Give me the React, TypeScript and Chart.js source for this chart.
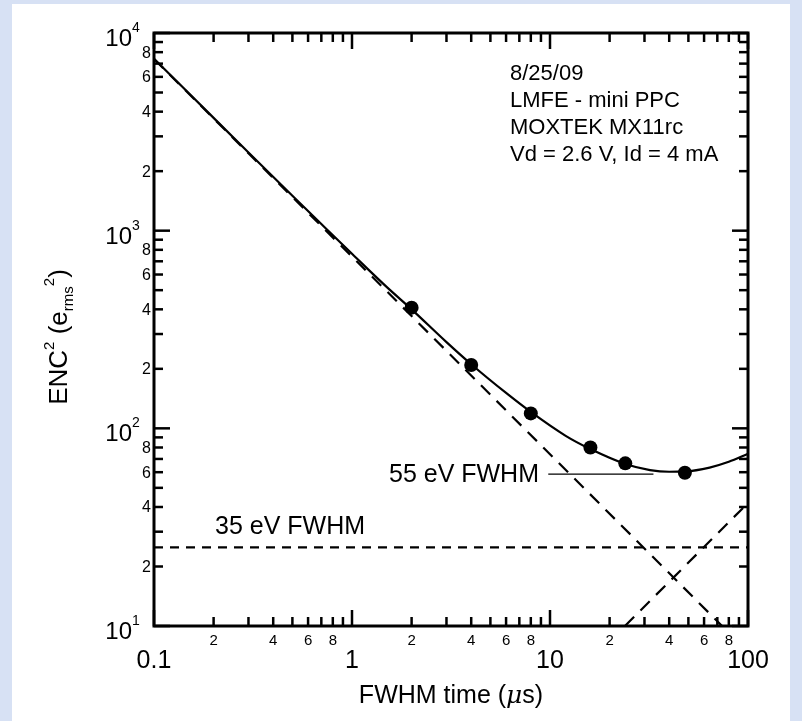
import React, { useEffect, useRef } from "react";
import { Chart, registerables } from "chart.js";

Chart.register(...registerables);

// Measured ENC^2 points
const measuredX = [2, 4, 8, 16, 24, 48];
const measuredY = [408, 209, 119, 80, 66.5, 59.6];

// Fitted curve
const fitX = [0.1, 0.15, 0.2, 0.3, 0.5, 0.7, 1, 1.5, 2, 3, 4, 6, 8, 12, 16, 24, 32, 40, 48, 64, 80, 100];
const fitY = [7415, 4952, 3720, 2488, 1503, 1081, 764, 518, 400, 273, 211, 151, 121, 91.6, 78.5, 66, 61.5, 60.3, 60.5, 63.3, 67.7, 74.3];

// Dashed components
const seriesX = [0.1, 74];
const seriesY = [7390, 10];
const parallelX = [23.9, 100];
const parallelY = [10, 41.9];
const flatX = [0.1, 100];
const flatY = [25, 25];

// 55 eV reference line
const ref55X = [9.8, 33.3];
const ref55Y = [58.7, 58.7];

// Axis ranges and tick labels
const xRange = [0.1, 100];
const yRange = [10, 10000];
const xDecades = [0.1, 1, 10, 100];
const xMajorLabels = ["0.1", "1", "10", "100"];
const yDecades = [10, 100, 1000, 10000];
const yExponents = ["1", "2", "3", "4"];
const minorLabelMultipliers = [2, 4, 6, 8];

const notes = ["8/25/09", "LMFE - mini PPC", "MOXTEK MX11rc", "Vd = 2.6 V, Id = 4 mA"];
const label55 = "55 eV FWHM";
const label35 = "35 eV FWHM";

const FONT = "'Liberation Sans', Arial, Helvetica, sans-serif";

const pts = (xs: number[], ys: number[]) => xs.map((x, i) => ({ x, y: ys[i] }));

const framePlugin = {
  id: "framePlugin",
  afterDraw(chart: any) {
    const ctx: CanvasRenderingContext2D = chart.ctx;
    const xs = chart.scales.x;
    const ys = chart.scales.y;
    const { left, right, top, bottom } = chart.chartArea;
    ctx.save();
    ctx.strokeStyle = "#000";
    ctx.fillStyle = "#000";
    ctx.lineCap = "butt";

    const line = (x1: number, y1: number, x2: number, y2: number) => {
      ctx.beginPath();
      ctx.moveTo(x1, y1);
      ctx.lineTo(x2, y2);
      ctx.stroke();
    };

    // ticks
    ctx.lineWidth = 2.5;
    xDecades.forEach((d) => {
      for (let m = 1; m <= 9; m++) {
        const v = d * m;
        if (v < xRange[0] - 1e-9 || v > xRange[1] + 1e-9) continue;
        const px = xs.getPixelForValue(v);
        const len = m === 1 ? 16 : 9;
        line(px, bottom, px, bottom - len);
        line(px, top, px, top + len);
      }
    });
    yDecades.forEach((d) => {
      for (let m = 1; m <= 9; m++) {
        const v = d * m;
        if (v < yRange[0] - 1e-9 || v > yRange[1] + 1e-9) continue;
        const py = ys.getPixelForValue(v);
        const len = m === 1 ? 16 : 9;
        line(left, py, left + len, py);
        line(right, py, right - len, py);
      }
    });

    // frame
    ctx.lineWidth = 3;
    ctx.strokeRect(left, top, right - left, bottom - top);

    // x tick labels
    ctx.textAlign = "center";
    ctx.textBaseline = "middle";
    xDecades.forEach((d, i) => {
      const px = xs.getPixelForValue(d);
      ctx.font = `25px ${FONT}`;
      ctx.fillText(xMajorLabels[i], px, bottom + 35);
      if (d < xRange[1]) {
        ctx.font = `15px ${FONT}`;
        minorLabelMultipliers.forEach((m) => {
          ctx.fillText(String(m), xs.getPixelForValue(d * m), bottom + 15);
        });
      }
    });

    // y tick labels
    yDecades.forEach((d, i) => {
      const py = ys.getPixelForValue(d);
      ctx.textAlign = "right";
      ctx.textBaseline = "alphabetic";
      ctx.font = `24px ${FONT}`;
      ctx.fillText("10", left - 22, py + 13);
      ctx.textAlign = "left";
      ctx.font = `14px ${FONT}`;
      ctx.fillText(yExponents[i], left - 22, py - 1);
      if (d < yRange[1]) {
        ctx.textAlign = "right";
        ctx.textBaseline = "middle";
        ctx.font = `16px ${FONT}`;
        minorLabelMultipliers.forEach((m) => {
          ctx.fillText(String(m), left - 3, ys.getPixelForValue(d * m) + 1);
        });
      }
    });

    // notes
    ctx.textAlign = "left";
    ctx.textBaseline = "alphabetic";
    ctx.font = `22px ${FONT}`;
    notes.forEach((t, i) => ctx.fillText(t, 510, 80 + i * 27));

    // 55 eV label
    ctx.font = `25px ${FONT}`;
    ctx.textAlign = "right";
    ctx.textBaseline = "middle";
    ctx.fillText(label55, 539, ys.getPixelForValue(ref55Y[0]) + 1);
    // 35 eV label
    ctx.textAlign = "left";
    ctx.textBaseline = "alphabetic";
    ctx.fillText(label35, 215, 534);

    // x title
    ctx.textBaseline = "alphabetic";
    const partsX = [
      { t: "FWHM time (", f: `25px ${FONT}` },
      { t: "\u03bc", f: `italic 25px 'DejaVu Serif', serif` },
      { t: "s)", f: `25px ${FONT}` },
    ];
    let total = 0;
    partsX.forEach((p) => {
      ctx.font = p.f;
      total += ctx.measureText(p.t).width;
    });
    let cx = (left + right) / 2 - total / 2;
    ctx.textAlign = "left";
    partsX.forEach((p) => {
      ctx.font = p.f;
      ctx.fillText(p.t, cx, 703);
      cx += ctx.measureText(p.t).width;
    });

    // y title (rotated)
    ctx.translate(67, 337);
    ctx.rotate(-Math.PI / 2);
    const partsY = [
      { t: "ENC", f: `26px ${FONT}`, dy: 0 },
      { t: "2", f: `15px ${FONT}`, dy: -13 },
      { t: " (e", f: `26px ${FONT}`, dy: 0 },
      { t: "rms", f: `15px ${FONT}`, dy: 6 },
      { t: "2", f: `15px ${FONT}`, dy: -13 },
      { t: ")", f: `26px ${FONT}`, dy: 0 },
    ];
    total = 0;
    partsY.forEach((p) => {
      ctx.font = p.f;
      total += ctx.measureText(p.t).width;
    });
    cx = -total / 2;
    partsY.forEach((p) => {
      ctx.font = p.f;
      ctx.fillText(p.t, cx, p.dy);
      cx += ctx.measureText(p.t).width;
    });
    ctx.restore();
  },
};

export default function App() {
  const ref = useRef<HTMLCanvasElement | null>(null);
  useEffect(() => {
    if (!ref.current) return;
    const chart = new Chart(ref.current, {
      type: "scatter",
      data: {
        datasets: [
          {
            label: "measured",
            data: pts(measuredX, measuredY),
            showLine: false,
            pointRadius: 7,
            pointBackgroundColor: "#000",
            pointBorderColor: "#000",
            pointBorderWidth: 0,
          },
          {
            label: "fit",
            data: pts(fitX, fitY),
            showLine: true,
            borderColor: "#000",
            borderWidth: 2.2,
            pointRadius: 0,
            cubicInterpolationMode: "monotone",
            clip: 2,
          },
          {
            label: "series",
            data: pts(seriesX, seriesY),
            showLine: true,
            borderColor: "#000",
            borderWidth: 2.2,
            borderDash: [13, 9],
            pointRadius: 0,
          },
          {
            label: "parallel",
            data: pts(parallelX, parallelY),
            showLine: true,
            borderColor: "#000",
            borderWidth: 2.2,
            borderDash: [13, 9],
            pointRadius: 0,
          },
          {
            label: "1/f",
            data: pts(flatX, flatY),
            showLine: true,
            borderColor: "#000",
            borderWidth: 2.2,
            borderDash: [9, 7],
            pointRadius: 0,
          },
          {
            label: "55 eV",
            data: pts(ref55X, ref55Y),
            showLine: true,
            borderColor: "#000",
            borderWidth: 1.3,
            pointRadius: 0,
          },
        ],
      },
      options: {
        responsive: false,
        animation: false,
        events: [],
        layout: { padding: { left: 154, right: 54, top: 33, bottom: 95 } },
        plugins: { legend: { display: false }, tooltip: { enabled: false }, title: { display: false } },
        scales: {
          x: { type: "logarithmic", min: xRange[0], max: xRange[1], display: false },
          y: { type: "logarithmic", min: yRange[0], max: yRange[1], display: false },
        },
      },
      plugins: [framePlugin],
    });
    return () => chart.destroy();
  }, []);

  return (
    <div style={{ position: "absolute", left: 0, top: 0, width: 802, height: 721, background: "#d7e1f4", overflow: "hidden" }}>
      <div style={{ position: "absolute", left: 12, top: 4, width: 778, height: 717, background: "#fff" }} />
      <canvas ref={ref} width={802} height={721} style={{ position: "absolute", left: 0, top: 0, width: 802, height: 721 }} />
    </div>
  );
}
